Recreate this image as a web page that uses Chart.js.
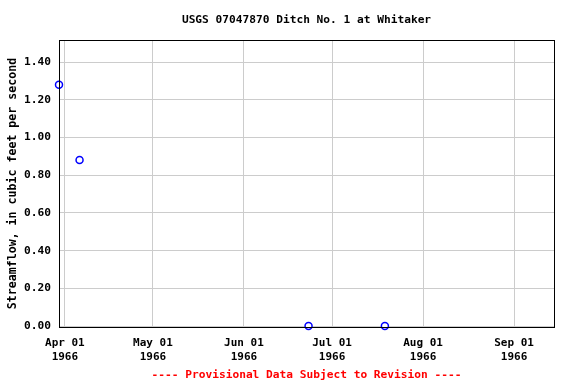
<!DOCTYPE html>
<html lang="en">
<head>
<meta charset="UTF-8">
<title>USGS 07047870 Ditch No. 1 at Whitaker</title>
<script src="https://cdn.jsdelivr.net/npm/chart.js"></script>
<style>
html,body{margin:0;padding:0;background:#fff;}
#wrap{width:576px;height:384px;position:relative;}
</style>
</head>
<body>
<div id="wrap"><canvas id="c" width="576" height="384"></canvas></div>
<script>
// data
const sampleDates=['1966-03-30','1966-04-06','1966-06-23','1966-07-19'];
const flows=[1.28,0.88,0.00,0.00];
const tickDates=['1966-04-01','1966-05-01','1966-06-01','1966-07-01','1966-08-01','1966-09-01'];
const tickLabels=[['Apr 01','1966'],['May 01','1966'],['Jun 01','1966'],['Jul 01','1966'],['Aug 01','1966'],['Sep 01','1966']];
const yTicks=[0,0.2,0.4,0.6,0.8,1.0,1.2,1.4];

const origin=Date.UTC(1966,3,1);
const toDay=s=>{const [y,m,d]=s.split('-').map(Number);return (Date.UTC(y,m-1,d)-origin)/86400000;};
const tickDays=tickDates.map(toDay);
const FONT='"DejaVu Sans Mono", monospace';

const textPlugin={
  id:'texts',
  afterDraw(chart){
    const ctx=chart.ctx,a=chart.chartArea;
    ctx.save();
    ctx.textAlign='center';ctx.textBaseline='middle';
    ctx.fillStyle='#000';ctx.font='bold 11.2px '+FONT;
    ctx.fillText('USGS 07047870 Ditch No. 1 at Whitaker',(a.left+a.right)/2,20);
    ctx.fillStyle='#f00';
    ctx.fillText('---- Provisional Data Subject to Revision ----',(a.left+a.right)/2,375);
    ctx.restore();
  }
};

new Chart(document.getElementById('c'),{
  type:'scatter',
  data:{datasets:[{
    data:sampleDates.map((d,i)=>({x:toDay(d),y:flows[i]})),
    pointStyle:'circle',pointRadius:3.5,pointBorderWidth:1.5,
    borderColor:'#0000ff',backgroundColor:'#fff',showLine:false,clip:false
  }]},
  options:{
    responsive:false,animation:false,
    layout:{padding:{top:40,left:6,right:22,bottom:0}},
    plugins:{legend:{display:false},tooltip:{enabled:false}},
    scales:{
      x:{
        type:'linear',min:-2,max:166.6,
        afterFit(s){s.height=57;},
        afterBuildTicks(s){s.ticks=tickDays.map(v=>({value:v}));},
        grid:{color:'#cccccc',drawTicks:false},
        border:{color:'#000',width:1},
        ticks:{
          autoSkip:false,maxRotation:0,padding:10,color:'#000',
          font:{family:FONT,size:11,weight:'bold'},
          callback(v){const i=tickDays.indexOf(v);return i<0?'':tickLabels[i];}
        }
      },
      y:{
        min:-0.005,max:1.517,
        afterFit(s){s.width=53;},
        afterBuildTicks(s){s.ticks=yTicks.map(v=>({value:v}));},
        grid:{color:'#cccccc',drawTicks:false},
        border:{color:'#000',width:1},
        title:{display:true,text:'Streamflow, in cubic feet per second',color:'#000',
          font:{family:FONT,size:11.6,weight:'bold'},padding:{top:0,bottom:0}},
        ticks:{padding:8,color:'#000',font:{family:FONT,size:11.2,weight:'bold'},
          callback:v=>v.toFixed(2)}
      }
    }
  },
  plugins:[textPlugin,{id:'frame',afterDraw(chart){
    const ctx=chart.ctx,a=chart.chartArea;
    ctx.save();ctx.strokeStyle='#000';ctx.lineWidth=1;
    ctx.strokeRect(Math.round(a.left)+0.5,Math.round(a.top)+0.5,Math.round(a.right-a.left),Math.round(a.bottom-a.top));
    ctx.restore();}}]
});
</script>
</body>
</html>
